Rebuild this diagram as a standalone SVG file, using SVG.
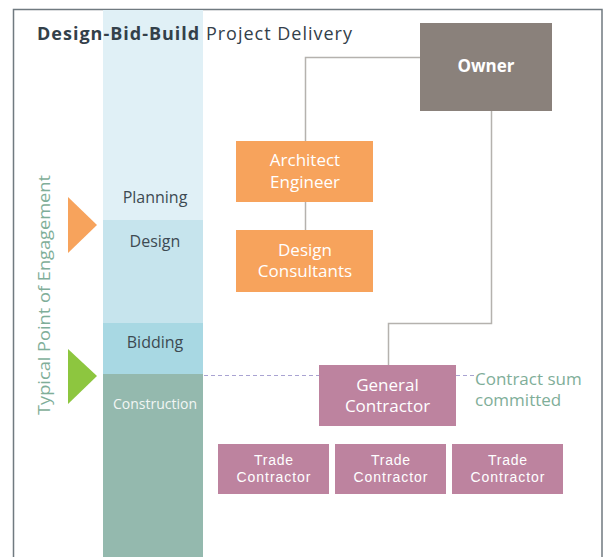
<svg xmlns="http://www.w3.org/2000/svg" width="608" height="557" viewBox="0 0 608 557">
<style>
.frame{fill:none;stroke:#707a80;stroke-width:1.5}
.conn{fill:none;stroke:#b5b2ae;stroke-width:1.5}
.dash{fill:none;stroke:#a9a3d2;stroke-width:1.2;stroke-dasharray:4 3}
.lbl{font-family:"Open Sans","Liberation Sans",Arial,sans-serif;font-size:17px;fill:#ffffff;text-anchor:middle}
.trade{font-family:"Liberation Sans",Arial,sans-serif;font-size:14px;fill:#ffffff;text-anchor:middle}
.phase{font-family:"Open Sans","Liberation Sans",sans-serif;font-size:16px;fill:#3d4a52;text-anchor:middle}
.note{font-family:"Open Sans","Liberation Sans",sans-serif;font-size:17px;fill:#7fae99}
</style>
<rect width="608" height="557" fill="#ffffff"/>
<path class="frame" d="M13.5,557 V9.5 H602 V557"/>
<g id="phases">
<rect x="103" y="10" width="100" height="210" fill="#e0f0f6"/>
<rect x="103" y="220" width="100" height="103" fill="#c6e4ed"/>
<rect x="103" y="323" width="100" height="51" fill="#a8d8e3"/>
<rect x="103" y="374" width="100" height="183" fill="#94b9ae"/>
<text class="phase" x="155" y="203">Planning</text>
<text class="phase" x="155" y="247">Design</text>
<text class="phase" x="155" y="348">Bidding</text>
<text class="phase" x="155" y="409" style="font-size:14px;fill:#f2f6f4">Construction</text>
</g>
<g id="title">
<text x="37" y="40" font-family="'Open Sans','Liberation Sans',sans-serif" font-size="18" fill="#33404a" textLength="315"><tspan font-weight="bold">Design-Bid-Build</tspan> Project Delivery</text>
</g>
<g id="engagement">
<text transform="translate(50,295) rotate(-90)" text-anchor="middle" font-family="'Open Sans','Liberation Sans',sans-serif" font-size="17" fill="#7fae99" textLength="240" lengthAdjust="spacingAndGlyphs">Typical Point of Engagement</text>
<polygon points="68,197 97,225 68,253" fill="#f7a35c"/>
<polygon points="68,349 97,376 68,404" fill="#8dc63f"/>
</g>
<g id="connectors">
<path class="conn" d="M420,57.5 H305.5 V141"/>
<path class="conn" d="M305.5,202 V230"/>
<path class="conn" d="M491.5,111 V323.5 H388.5 V365"/>
<path class="dash" d="M204,375.5 H319"/>
<path class="dash" d="M456,375.5 H475"/>
</g>
<g id="owner">
<rect x="420" y="23" width="132" height="88" fill="#8a817b"/>
<text class="lbl" x="486" y="72" font-weight="bold">Owner</text>
</g>
<g id="architect">
<rect x="236" y="141" width="137" height="61" fill="#f7a35c"/>
<text class="lbl" x="305" y="166">Architect</text>
<text class="lbl" x="305" y="188">Engineer</text>
</g>
<g id="consultants">
<rect x="236" y="230" width="137" height="62" fill="#f7a35c"/>
<text class="lbl" x="305" y="256">Design</text>
<text class="lbl" x="305" y="277">Consultants</text>
</g>
<g id="gc">
<rect x="319" y="365" width="137" height="61" fill="#bd839f"/>
<text class="lbl" x="387.5" y="391">General</text>
<text class="lbl" x="387.5" y="412">Contractor</text>
</g>
<g id="note">
<text class="note" x="475" y="385">Contract sum</text>
<text class="note" x="475" y="406">committed</text>
</g>
<g id="trade1">
<rect x="218" y="444" width="111" height="50" fill="#bd839f"/>
<text class="trade" x="273.5" y="465" textLength="39">Trade</text>
<text class="trade" x="273.5" y="482" textLength="74">Contractor</text>
</g>
<g id="trade2">
<rect x="335" y="444" width="111" height="50" fill="#bd839f"/>
<text class="trade" x="390.5" y="465" textLength="39">Trade</text>
<text class="trade" x="390.5" y="482" textLength="74">Contractor</text>
</g>
<g id="trade3">
<rect x="452" y="444" width="111" height="50" fill="#bd839f"/>
<text class="trade" x="507.5" y="465" textLength="39">Trade</text>
<text class="trade" x="507.5" y="482" textLength="74">Contractor</text>
</g>
</svg>
